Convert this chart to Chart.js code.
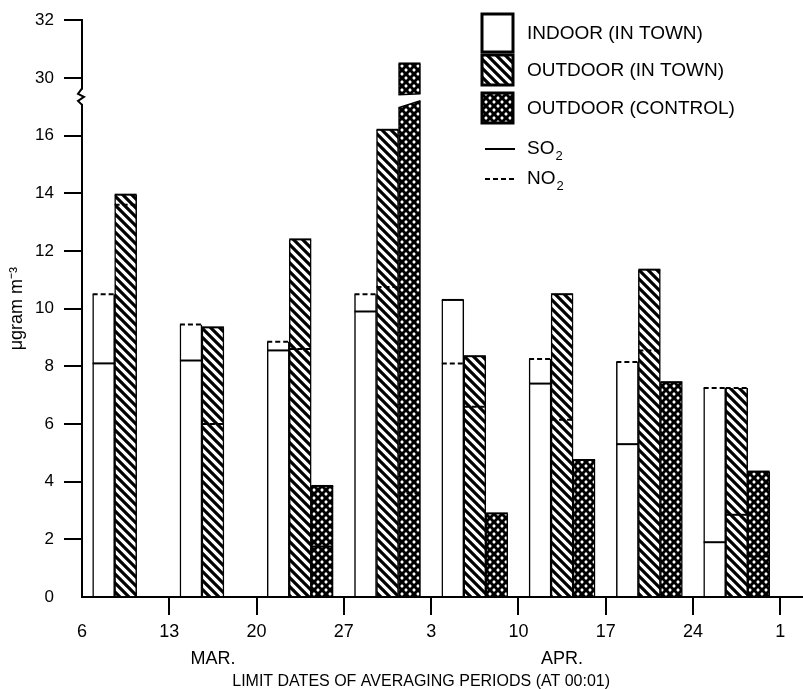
<!DOCTYPE html>
<html>
<head>
<meta charset="utf-8">
<script src="https://cdn.jsdelivr.net/npm/chart.js@4.4.0/dist/chart.umd.min.js"></script>
<style>
  html, body { margin: 0; padding: 0; background: #fff; }
</style>
</head>
<body>
<canvas id="chart" width="803" height="689"></canvas>
<script>
// limit dates of the averaging periods (tick labels on the x axis)
const dateLabels = ['6', '13', '20', '27', '3', '10', '17', '24', '1'];
const monthNames = ['MAR.', 'APR.'];
const monthPeriod = [1, 5];          // month name sits under the middle of this period
const xTitle = 'LIMIT DATES OF AVERAGING PERIODS (AT 00:01)';

// weekly means, µg m-3 (null = not measured / not readable)
const indoorSO2  = [8.1, 8.2, 8.55, 9.9, 10.3, 7.4, 5.3, 1.9];
const indoorNO2  = [10.5, 9.45, 8.85, 10.5, 8.1, 8.25, 8.15, 7.25];
const outdoorSO2 = [13.95, 9.35, 12.4, 16.2, 8.35, 10.5, 11.35, 2.85];
const outdoorNO2 = [13.6, 6.0, 8.6, 10.75, 6.6, 6.15, 8.55, 7.25];
const controlSO2 = [null, null, 3.85, 30.5, 2.9, 4.75, 7.45, 4.35];
const controlNO2 = [null, null, 1.75, 3.6, null, null, null, 1.4];

const seriesNames = ['INDOOR (IN TOWN)', 'OUTDOOR (IN TOWN)', 'OUTDOOR (CONTROL)'];

// broken y axis: 16 jumps straight to 30
const BREAK_LOW = 16;
const BREAK_HIGH = 30;
const toAxis = v => (v == null ? null : (v >= BREAK_HIGH ? v - (BREAK_HIGH - BREAK_LOW - 2) : v));
const fromAxis = v => (v > BREAK_LOW ? v + (BREAK_HIGH - BREAK_LOW - 2) : v);

const FONT = "'Liberation Sans', Arial, Helvetica, sans-serif";

// fill patterns
function hatchPattern() {
  const c = document.createElement('canvas');
  c.width = 9; c.height = 9;
  const g = c.getContext('2d');
  g.fillStyle = '#fff';
  g.fillRect(0, 0, 9, 9);
  g.strokeStyle = '#000';
  g.lineWidth = 3.2;
  g.beginPath();
  g.moveTo(-2, -2); g.lineTo(11, 11);
  g.moveTo(-2, 7); g.lineTo(2, 11);
  g.moveTo(7, -2); g.lineTo(11, 2);
  g.stroke();
  return g.createPattern(c, 'repeat');
}

function crossPattern() {
  const c = document.createElement('canvas');
  c.width = 8; c.height = 8;
  const g = c.getContext('2d');
  g.fillStyle = '#000';
  g.fillRect(0, 0, 8, 8);
  g.fillStyle = '#fff';
  [[2, 2], [6, 6]].forEach(([x, y]) => {
    g.beginPath();
    g.moveTo(x, y - 1.9);
    g.lineTo(x + 1.9, y);
    g.lineTo(x, y + 1.9);
    g.lineTo(x - 1.9, y);
    g.closePath();
    g.fill();
  });
  return g.createPattern(c, 'repeat');
}

const ctx0 = document.getElementById('chart').getContext('2d');
const fills = ['#fff', hatchPattern(), crossPattern()];

function makeSet(k, so2, no2) {
  return {
    label: seriesNames[k],
    so2: so2,
    no2: no2,
    data: so2.map((s, i) => {
      const n = no2[i];
      const top = (s == null && n == null) ? null : Math.max(s ?? -Infinity, n ?? -Infinity);
      return { x: i + 0.5, y: toAxis(top) };
    }),
    backgroundColor: fills[k],
    borderColor: '#000',
    borderWidth: { left: 1.5, right: 1.5, top: 0, bottom: 0 },
    borderSkipped: false,
    barThickness: 22
  };
}

function hline(ctx, x0, x1, y, dashed, w) {
  ctx.save();
  ctx.strokeStyle = '#000';
  ctx.lineWidth = w || 2;
  ctx.setLineDash(dashed ? [5, 3] : []);
  ctx.beginPath();
  ctx.moveTo(x0, y);
  ctx.lineTo(x1, y);
  ctx.stroke();
  ctx.restore();
}

// SO2 / NO2 levels inside each bar, and the gap where a bar crosses the axis break
const barLevels = {
  id: 'barLevels',
  afterDatasetsDraw(chart) {
    const ctx = chart.ctx;
    const ys = chart.scales.y;
    chart.data.datasets.forEach((ds, di) => {
      chart.getDatasetMeta(di).data.forEach((bar, i) => {
        const s = ds.so2[i], n = ds.no2[i];
        if (s == null && n == null) return;
        const l = bar.x - bar.width / 2, r = bar.x + bar.width / 2;
        const topIsNO2 = n != null && (s == null || n > s);
        const low = topIsNO2 ? s : n;
        hline(ctx, l, r, bar.y, topIsNO2);
        if (low != null) hline(ctx, l, r, ys.getPixelForValue(toAxis(low)), !topIsNO2);
        if (Math.max(s ?? 0, n ?? 0) >= BREAK_HIGH) {
          const yLow = ys.getPixelForValue(17.1);
          const yHigh = ys.getPixelForValue(17.45);
          ctx.save();
          ctx.fillStyle = '#fff';
          ctx.beginPath();
          ctx.moveTo(l - 1, yLow + 4);
          ctx.lineTo(r + 1, yLow - 3);
          ctx.lineTo(r + 1, yHigh);
          ctx.lineTo(l - 1, yHigh + 1);
          ctx.closePath();
          ctx.fill();
          ctx.strokeStyle = '#000';
          ctx.lineWidth = 1.5;
          ctx.beginPath();
          ctx.moveTo(l, yLow + 4); ctx.lineTo(r, yLow - 3);
          ctx.moveTo(l, yHigh + 1); ctx.lineTo(r, yHigh);
          ctx.stroke();
          ctx.restore();
        }
      });
    });
  }
};

// axis break mark, month names, x title and the key
const decorations = {
  id: 'decorations',
  afterDraw(chart) {
    const ctx = chart.ctx;
    const ys = chart.scales.y, xs = chart.scales.x;
    const ax = chart.chartArea.left;
    const bottom = chart.chartArea.bottom;

    // zigzag on the y axis
    const yb = ys.getPixelForValue(17.1), yt = ys.getPixelForValue(17.6);
    ctx.save();
    ctx.fillStyle = '#fff';
    ctx.fillRect(ax - 2, yt, 4, yb - yt);
    ctx.strokeStyle = '#000';
    ctx.lineWidth = 2;
    ctx.beginPath();
    ctx.moveTo(ax, yb + 1);
    ctx.lineTo(ax - 4, yb - 3);
    ctx.lineTo(ax + 2, yb - 7);
    ctx.lineTo(ax - 4, yb - 10);
    ctx.lineTo(ax, yt - 1);
    ctx.stroke();

    // month names
    ctx.fillStyle = '#000';
    ctx.font = '18px ' + FONT;
    ctx.textAlign = 'center';
    ctx.textBaseline = 'middle';
    monthNames.forEach((m, i) => {
      ctx.fillText(m, xs.getPixelForValue(monthPeriod[i] + 0.5), bottom + 62);
    });

    // x axis title, centred under the dated ticks
    ctx.font = '16px ' + FONT;
    const xMid = (xs.getPixelForValue(0) + xs.getPixelForValue(dateLabels.length - 1)) / 2 - 10;
    ctx.fillText(xTitle, xMid, bottom + 85);

    // key
    const kx = 482, kw = 31;
    const rows = [[14, 38], [55, 30], [93, 30]];
    ctx.font = '19px ' + FONT;
    ctx.textAlign = 'left';
    rows.forEach(([top, h], k) => {
      ctx.fillStyle = fills[k];
      ctx.fillRect(kx, top, kw, h);
      ctx.strokeStyle = '#000';
      ctx.lineWidth = 3;
      ctx.strokeRect(kx, top, kw, h);
      ctx.fillStyle = '#000';
      ctx.fillText(seriesNames[k], kx + 45, top + h / 2 + 1);
    });
    [['SO', false, 149], ['NO', true, 179]].forEach(([gas, dashed, y]) => {
      hline(ctx, kx + 3, kx + 33, y, dashed, 2);
      ctx.fillStyle = '#000';
      ctx.font = '19px ' + FONT;
      ctx.fillText(gas, kx + 45, y);
      const w = ctx.measureText(gas).width;
      ctx.font = '13px ' + FONT;
      ctx.fillText('2', kx + 45 + w + 1, y + 7);
    });
    ctx.restore();
  }
};

new Chart(ctx0, {
  type: 'bar',
  data: {
    datasets: [
      makeSet(0, indoorSO2, indoorNO2),
      makeSet(1, outdoorSO2, outdoorNO2),
      makeSet(2, controlSO2, controlNO2)
    ]
  },
  options: {
    responsive: false,
    animation: false,
    events: [],
    layout: { padding: { top: 17, right: 0, left: 0, bottom: 0 } },
    plugins: { legend: { display: false }, tooltip: { enabled: false } },
    scales: {
      x: {
        type: 'linear',
        min: 0,
        max: 8.26,
        offset: false,
        afterBuildTicks: s => { s.ticks = dateLabels.map((_, i) => ({ value: i })); },
        afterFit: s => { s.height = 92; },
        border: { display: true, color: '#000', width: 2 },
        grid: {
          offset: false,
          drawOnChartArea: false,
          drawTicks: true,
          tickLength: 18,
          lineWidth: 2,
          color: c => (c.tick && c.tick.value === 0 ? 'rgba(0,0,0,0)' : '#000')
        },
        ticks: {
          autoSkip: false,
          maxRotation: 0,
          padding: 6,
          color: '#000',
          font: { family: FONT, size: 18 },
          callback: v => dateLabels[v] ?? ''
        }
      },
      y: {
        min: 0,
        max: 20,
        afterFit: s => { s.width = 82; },
        border: { display: true, color: '#000', width: 2 },
        grid: {
          drawOnChartArea: false,
          drawTicks: true,
          tickLength: 18,
          lineWidth: 2,
          color: c => (c.tick && c.tick.value === 0 ? 'rgba(0,0,0,0)' : '#000')
        },
        ticks: {
          stepSize: 2,
          padding: 10,
          color: '#000',
          font: { family: FONT, size: 17 },
          callback: v => String(fromAxis(v))
        },
        title: {
          display: true,
          text: 'μgram m⁻³',
          color: '#000',
          font: { family: FONT, size: 18 },
          padding: { top: 6, bottom: 0 }
        }
      }
    }
  },
  plugins: [barLevels, decorations]
});
</script>
</body>
</html>
